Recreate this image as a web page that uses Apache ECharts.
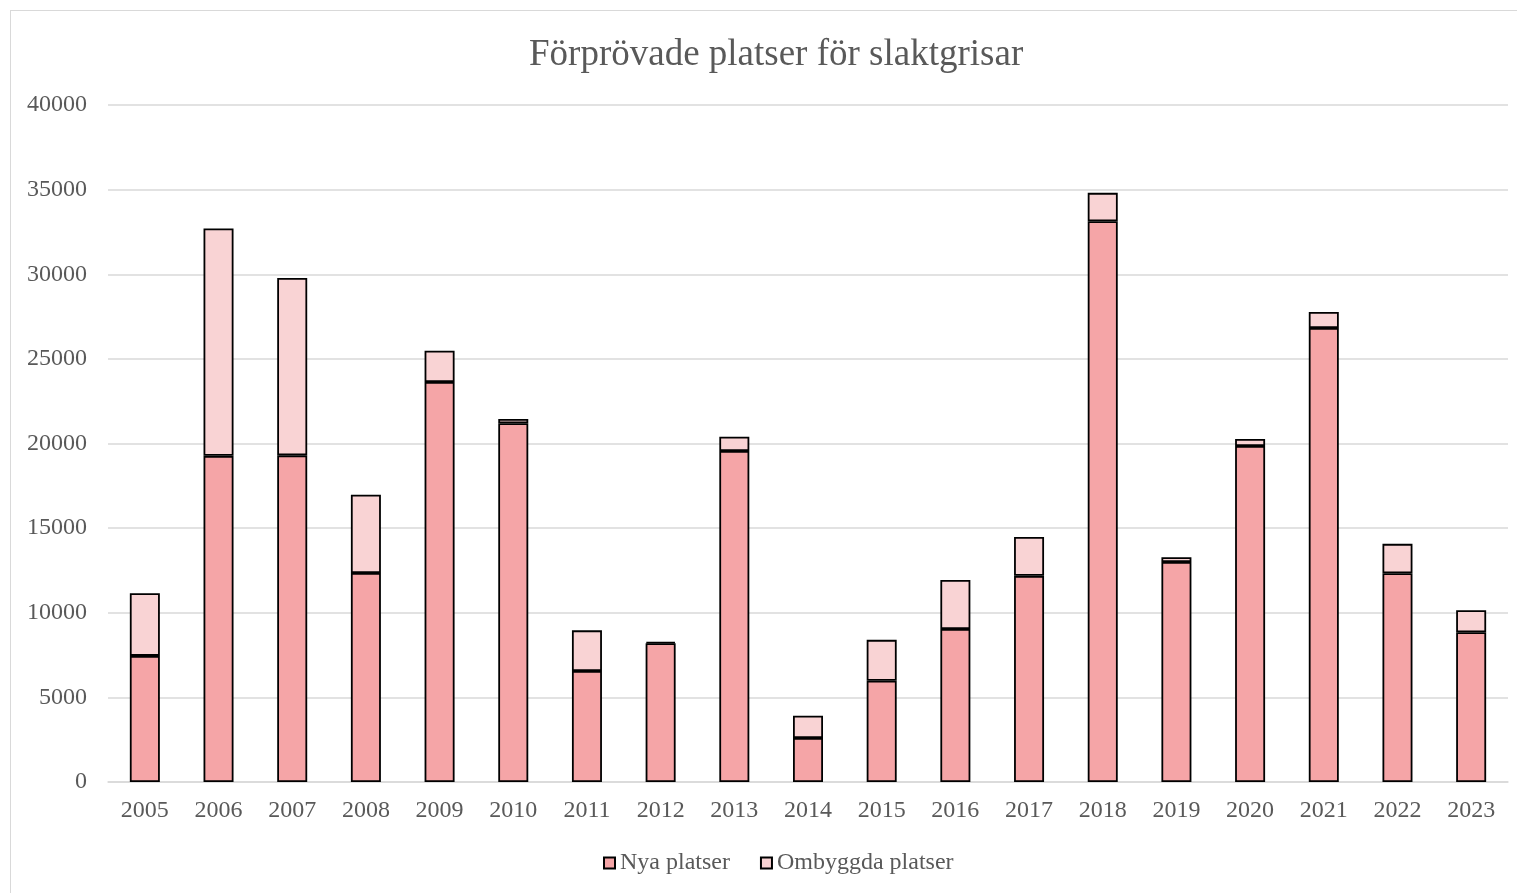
<!DOCTYPE html>
<html>
<head>
<meta charset="utf-8">
<script src="https://cdn.jsdelivr.net/npm/echarts@6/dist/echarts.min.js"></script>
<style>
html,body{margin:0;padding:0;background:#fff;}
#frame{position:absolute;left:10px;top:10px;width:1520px;height:890px;border:1px solid #d9d9d9;box-sizing:border-box;}
#chart{position:absolute;left:0;top:0;width:1517px;height:893px;}
</style>
</head>
<body>
<div id="frame"></div>
<div id="chart"></div>
<script>
const years = ['2005','2006','2007','2008','2009','2010','2011','2012','2013','2014','2015','2016','2017','2018','2019','2020','2021','2022','2023'];
const nyaPlatser = [7450,19270,19300,12350,23630,21200,6560,8200,19560,2600,5980,9040,12180,33130,13000,19850,26820,12330,8850];
const ombyggdaPlatser = [3700,13430,10480,4620,1850,250,2400,80,840,1320,2420,2900,2300,1680,280,420,950,1740,1300];
const yTicks = {min:0, max:40000, interval:5000};

const chart = echarts.init(document.getElementById('chart'));
const font = '"Liberation Serif", "Times New Roman", serif';
chart.setOption({
  animation:false,
  title:{text:'Förprövade platser för slaktgrisar', left:524, top:32,
    textStyle:{fontFamily:font, fontSize:37, fontWeight:'normal', color:'#595959'}},
  legend:{bottom:13, left:598, itemWidth:11, itemHeight:11, itemGap:30,
    textStyle:{fontFamily:font, fontSize:24, color:'#595959', padding:[0,0,0,0]},
    data:[
      {name:'Nya platser', icon:'rect', itemStyle:{color:'#F5A5A7', borderColor:'#000', borderWidth:2}},
      {name:'Ombyggda platser', icon:'rect', itemStyle:{color:'#F9D3D4', borderColor:'#000', borderWidth:2}}
    ]},
  grid:{left:108, right:9, top:105, bottom:111, containLabel:false},
  xAxis:{type:'category', data:years,
    axisLine:{lineStyle:{color:'#d9d9d9', width:1.5}}, axisTick:{show:false},
    axisLabel:{fontFamily:font, fontSize:24, color:'#595959', margin:17}},
  yAxis:{type:'value', min:yTicks.min, max:yTicks.max, interval:yTicks.interval,
    axisLine:{show:false}, axisTick:{show:false},
    splitLine:{lineStyle:{color:'#d9d9d9', width:1.5}},
    axisLabel:{fontFamily:font, fontSize:24, color:'#595959', margin:21, formatter:function(v){return String(v);}}},
  series:[
    {name:'Nya platser', type:'bar', stack:'a', data:nyaPlatser, barWidth:30,
      itemStyle:{color:'#F5A5A7', borderColor:'#000', borderWidth:1.8}},
    {name:'Ombyggda platser', type:'bar', stack:'a', data:ombyggdaPlatser, barWidth:30,
      itemStyle:{color:'#F9D3D4', borderColor:'#000', borderWidth:1.8}}
  ]
});
</script>
</body>
</html>
